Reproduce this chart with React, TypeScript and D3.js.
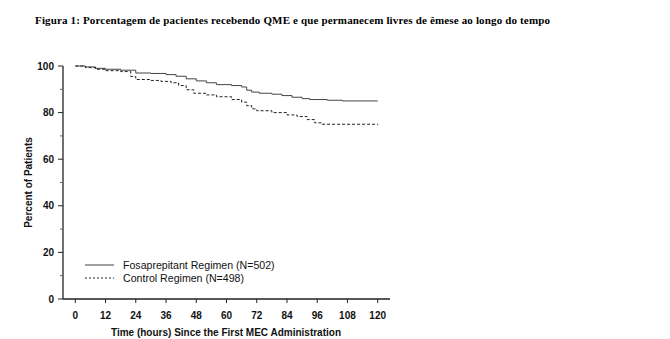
import React from "react";
import * as d3 from "d3";

const title = "Figura 1: Porcentagem de pacientes recebendo QME e que permanecem livres de êmese ao longo do tempo";
const xTicks = [0, 12, 24, 36, 48, 60, 72, 84, 96, 108, 120];
const yTicks = [0, 20, 40, 60, 80, 100];
const yMinorTicks = [10, 30, 50, 70, 90];

const fosaTimes = [0, 4, 8, 12, 18, 24, 30, 36, 40, 44, 48, 52, 56, 62, 66, 68, 70, 73, 78, 82, 86, 90, 93, 100, 106, 120];
const fosaValues = [100, 99.6, 99.0, 98.6, 98.2, 97.0, 96.8, 96.3, 95.6, 94.5, 93.6, 92.8, 92.0, 91.6, 91.0, 89.6, 88.8, 88.3, 87.9, 87.3, 86.6, 86.0, 85.6, 85.3, 85.0, 85.0];

const ctrlTimes = [0, 4, 8, 12, 18, 22, 24, 30, 34, 38, 41, 44, 47, 52, 56, 62, 66, 68, 70, 72, 78, 84, 88, 92, 95, 98, 120];
const ctrlValues = [100, 99.3, 98.6, 98.0, 97.6, 95.5, 94.2, 93.8, 93.4, 92.8, 91.6, 89.8, 88.3, 87.6, 86.8, 85.6, 84.5, 83.0, 81.6, 80.8, 80.0, 79.0, 78.3, 77.0, 75.6, 75.0, 74.6];

const seriesNames = ["Fosaprepitant Regimen (N=502)", "Control Regimen (N=498)"];

export default function App() {
  const x = d3.scaleLinear().domain([0, 120]).range([75.3, 377.7]);
  const y = d3.scaleLinear().domain([0, 100]).range([299, 66]);
  const line = d3
    .line<[number, number]>()
    .x((d) => x(d[0]))
    .y((d) => y(d[1]))
    .curve(d3.curveStepAfter);
  const fosa = fosaTimes.map((t, i) => [t, fosaValues[i]] as [number, number]);
  const ctrl = ctrlTimes.map((t, i) => [t, ctrlValues[i]] as [number, number]);
  const axisX0 = 63;
  const axisY = 299;
  const font = "Arial, 'Liberation Sans', sans-serif";

  return (
    <svg
      width={670}
      height={339}
      style={{ position: "absolute", left: 0, top: 0, background: "#fff" }}
    >
      <text
        x={35}
        y={24}
        fontFamily="'Liberation Serif', 'Times New Roman', serif"
        fontWeight="bold"
        fontSize={11}
        textLength={515}
        lengthAdjust="spacing"
        fill="#000"
      >
        {title}
      </text>

      {/* y axis */}
      <line x1={axisX0} x2={axisX0} y1={y(100)} y2={axisY} stroke="#222" strokeWidth={1.3} />
      {yTicks.map((t) => (
        <g key={"yt" + t}>
          <line x1={axisX0 - 5} x2={axisX0} y1={y(t)} y2={y(t)} stroke="#222" strokeWidth={1} />
          <text
            x={54}
            y={y(t) + 3.5}
            textAnchor="end"
            fontFamily={font}
            fontWeight="bold"
            fontSize={10}
            fill="#111"
          >
            {t}
          </text>
        </g>
      ))}
      {yMinorTicks.map((t) => (
        <line key={"ym" + t} x1={axisX0 - 3} x2={axisX0} y1={y(t)} y2={y(t)} stroke="#666" strokeWidth={1} />
      ))}
      <text
        transform={`translate(32, ${y(50)}) rotate(-90)`}
        textAnchor="middle"
        fontFamily={font}
        fontWeight="bold"
        fontSize={10}
        fill="#111"
      >
        Percent of Patients
      </text>

      {/* x axis */}
      <line x1={axisX0} x2={390} y1={axisY} y2={axisY} stroke="#222" strokeWidth={1.5} />
      {xTicks.map((t) => (
        <g key={"xt" + t}>
          <line x1={x(t)} x2={x(t)} y1={axisY} y2={axisY + 4} stroke="#222" strokeWidth={1} />
          <text
            x={x(t)}
            y={319}
            textAnchor="middle"
            fontFamily={font}
            fontWeight="bold"
            fontSize={10}
            fill="#111"
          >
            {t}
          </text>
        </g>
      ))}
      <text
        x={226}
        y={336}
        textAnchor="middle"
        fontFamily={font}
        fontWeight="bold"
        fontSize={10}
        fill="#111"
      >
        Time (hours) Since the First MEC Administration
      </text>

      {/* series */}
      <path d={line(fosa) || ""} fill="none" stroke="#444" strokeWidth={1} />
      <path d={line(ctrl) || ""} fill="none" stroke="#222" strokeWidth={1} strokeDasharray="3,2" />

      {/* legend */}
      <line x1={85} x2={114} y1={265} y2={265} stroke="#444" strokeWidth={1} />
      <text x={123} y={269} fontFamily={font} fontSize={10.6} fill="#111">
        {seriesNames[0]}
      </text>
      <line x1={85} x2={114} y1={278} y2={278} stroke="#222" strokeWidth={1} strokeDasharray="2,2" />
      <text x={123} y={282} fontFamily={font} fontSize={10.6} fill="#111">
        {seriesNames[1]}
      </text>
    </svg>
  );
}
